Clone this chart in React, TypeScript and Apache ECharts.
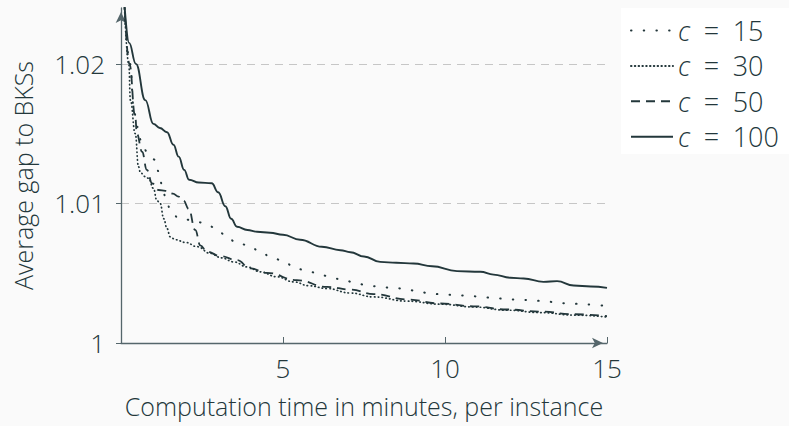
import React, { useEffect, useRef } from "react";
import * as echarts from "echarts";

// minutes per instance
const t15 = [0.1, 0.28, 0.39, 0.49, 0.65, 0.8, 1.06, 1.16, 1.27, 1.37, 1.52, 1.78, 2.2, 2.6, 2.94, 3.25, 3.58, 3.94, 4.3, 4.65, 5.02, 5.36, 5.74, 6.1, 6.49, 6.9, 7.26, 7.64, 8.06, 8.44, 8.83, 9.2, 9.6, 9.99, 10.39, 10.78, 11.17, 11.56, 11.96, 12.35, 12.73, 13.15, 13.53, 13.92, 14.31, 15];
const v15 = [1.0245, 1.02, 1.01694, 1.0155, 1.0143, 1.01371, 1.01312, 1.01228, 1.01132, 1.01048, 1.0096, 1.00893, 1.0088, 1.00857, 1.00821, 1.00766, 1.00714, 1.00701, 1.00653, 1.00612, 1.00587, 1.00539, 1.00515, 1.00498, 1.00467, 1.00449, 1.00426, 1.00412, 1.00398, 1.00395, 1.00383, 1.00366, 1.00352, 1.00347, 1.00342, 1.00337, 1.00328, 1.00321, 1.00312, 1.0031, 1.00304, 1.00297, 1.00285, 1.00282, 1.00276, 1.00265];

const t30 = [0.1, 0.24, 0.29, 0.44, 0.54, 0.6, 0.75, 0.85, 1.0, 1.11, 1.21, 1.32, 1.42, 1.52, 1.68, 2.0, 2.35, 2.76, 3.1, 3.48, 3.9, 4.3, 4.8, 5.33, 5.8, 6.36, 7.08, 7.8, 8.83, 9.85, 10.88, 11.91, 12.94, 13.97, 15];
const v30 = [1.0245, 1.02, 1.0174, 1.015, 1.01263, 1.0122, 1.01192, 1.0118, 1.01108, 1.0102, 1.01, 1.0089, 1.0082, 1.0076, 1.0074, 1.0072, 1.0069, 1.00642, 1.0061, 1.00581, 1.00545, 1.0051, 1.00475, 1.00438, 1.0041, 1.0039, 1.00358, 1.0033, 1.003, 1.00278, 1.00258, 1.00235, 1.00218, 1.002, 1.00186];

const t50 = [0.1, 0.26, 0.44, 0.49, 0.65, 0.8, 0.96, 1.16, 1.37, 1.6, 1.78, 1.93, 2.09, 2.29, 2.45, 2.65, 3.07, 3.58, 3.99, 4.5, 5.43, 6.36, 7.08, 7.8, 8.83, 9.85, 10.88, 11.91, 12.94, 13.97, 15];
const v50 = [1.0245, 1.02, 1.0162, 1.015, 1.0137, 1.0124, 1.01144, 1.01096, 1.0109, 1.0107, 1.01048, 1.0102, 1.0096, 1.0081, 1.007, 1.00655, 1.00622, 1.00594, 1.00534, 1.00503, 1.0045, 1.00402, 1.00383, 1.0035, 1.00312, 1.00283, 1.00263, 1.0024, 1.00225, 1.00206, 1.00192];

const t100 = [0.1, 0.25, 0.46, 0.75, 1.0, 1.2, 1.42, 1.62, 1.78, 1.95, 2.1, 2.4, 2.8, 3.0, 3.22, 3.4, 3.58, 3.9, 4.2, 4.6, 5.0, 5.53, 6.2, 6.77, 7.08, 7.5, 8.0, 8.5, 9.03, 9.6, 10.37, 11.09, 11.5, 12.02, 12.43, 13.04, 13.46, 13.97, 14.5, 15];
const v100 = [1.0245, 1.0215, 1.02, 1.0174, 1.0157, 1.0154, 1.0151, 1.0142, 1.01335, 1.0124, 1.0117, 1.0115, 1.01144, 1.0108, 1.0098, 1.0089, 1.00833, 1.0081, 1.00797, 1.0079, 1.00775, 1.0074, 1.0069, 1.00665, 1.0065, 1.0062, 1.00581, 1.00575, 1.0057, 1.0055, 1.00515, 1.0051, 1.0049, 1.00467, 1.00462, 1.00438, 1.00443, 1.00412, 1.00405, 1.00395];

const seriesNames = ["c = 15", "c = 30", "c = 50", "c = 100"];
const xTicks = [5, 10, 15];
const yTicks = [1, 1.01, 1.02];

const zip = (t: number[], v: number[]) => t.map((x, i) => [x, v[i]]);

const TEXT = "#23373b";
const AXIS = "#55666b";
const FONT = "'Open Sans', 'Noto Sans', sans-serif";
const FS = 26;
const NFS = 25;
const LFS = 27;

export default function App() {
  const ref = useRef<HTMLDivElement>(null);
  useEffect(() => {
    if (!ref.current) return;
    const chart = echarts.init(ref.current, undefined, { renderer: "svg" });
    const styles = [
      { width: 2, type: [0.5, 12.2], cap: "round" },
      { width: 1.7, type: [0.5, 3.3], cap: "round" },
      { width: 1.8, type: [9, 6], cap: "butt" },
      { width: 1.9, type: "solid", cap: "butt" },
    ];
    const datasets = [zip(t15, v15), zip(t30, v30), zip(t50, v50), zip(t100, v100)];
    chart.setOption({
      animation: false,
      backgroundColor: "#fafafa",
      textStyle: { fontFamily: FONT, fontWeight: 300, color: TEXT },
      grid: { left: 121, right: 182, top: 8, bottom: 83, containLabel: false },
      graphic: [
        {
          type: "rect",
          z: 0,
          shape: { x: 621, y: 8, width: 168, height: 146 },
          style: { fill: "#ffffff" },
        },
      ],
      legend: {
        orient: "vertical",
        left: 630,
        top: 17,
        padding: 0,
        itemWidth: 42,
        itemHeight: 14,
        itemGap: 8.4,
        data: seriesNames,
        itemStyle: { opacity: 0 },
        formatter: (n: string) => {
          const num = n.split("=")[1].trim();
          return "{i|c}\u2002=\u2002" + num;
        },
        textStyle: {
          fontFamily: FONT,
          fontWeight: 300,
          fontSize: LFS,
          lineHeight: 24,
          color: TEXT,
          rich: {
            i: { fontFamily: FONT, fontWeight: 300, fontStyle: "italic", fontSize: LFS, color: TEXT, lineHeight: 24 },
          },
        },
      },
      xAxis: {
        type: "value",
        min: 0,
        max: 15,
        interval: 5,
        name: "Computation time in minutes, per instance",
        nameLocation: "middle",
        nameGap: 50,
        nameTextStyle: { fontFamily: FONT, fontWeight: 300, fontSize: NFS, color: TEXT },
        axisLine: {
          show: true,
          onZero: false,
          symbol: ["none", "arrow"],
          symbolSize: [8, 11],
          symbolOffset: [0, -4],
          lineStyle: { color: AXIS, width: 1.3 },
        },
        axisTick: { show: true, inside: true, length: 6, customValues: xTicks, lineStyle: { color: AXIS, width: 1 } },
        axisLabel: { customValues: xTicks, margin: 12, fontFamily: FONT, fontWeight: 300, fontSize: FS, color: TEXT },
        splitLine: { show: false },
      },
      yAxis: {
        type: "value",
        min: 1,
        max: 1.024,
        interval: 0.01,
        name: "Average gap to BKSs",
        nameLocation: "middle",
        nameGap: 86,
        nameTextStyle: { fontFamily: FONT, fontWeight: 300, fontSize: NFS, color: TEXT },
        axisLine: {
          show: true,
          symbol: ["none", "arrow"],
          symbolSize: [8, 11],
          symbolOffset: [0, -4],
          lineStyle: { color: AXIS, width: 1.3 },
        },
        axisTick: { show: true, inside: false, length: 5, customValues: yTicks, lineStyle: { color: AXIS, width: 1 } },
        axisLabel: {
          customValues: yTicks,
          margin: 16,
          fontFamily: FONT,
          fontWeight: 300,
          fontSize: FS,
          color: TEXT,
          formatter: (v: number) => (Math.abs(v - 1) < 1e-9 ? "1" : v.toFixed(2)),
        },
        splitLine: {
          show: true,
          showMinLine: false,
          showMaxLine: true,
          lineStyle: { color: "#c6c6c6", width: 1.2, type: [8, 6] },
        },
      },
      series: seriesNames.map((name, i) => ({
        name,
        type: "line",
        data: datasets[i],
        showSymbol: false,
        symbol: "none",
        smooth: 0.45,
        smoothMonotone: "x",
        clip: true,
        color: TEXT,
        lineStyle: { color: TEXT, ...styles[i] },
      })),
    });
    return () => chart.dispose();
  }, []);
  return <div ref={ref} style={{ position: "fixed", left: 0, top: 0, width: 789, height: 426 }} />;
}
